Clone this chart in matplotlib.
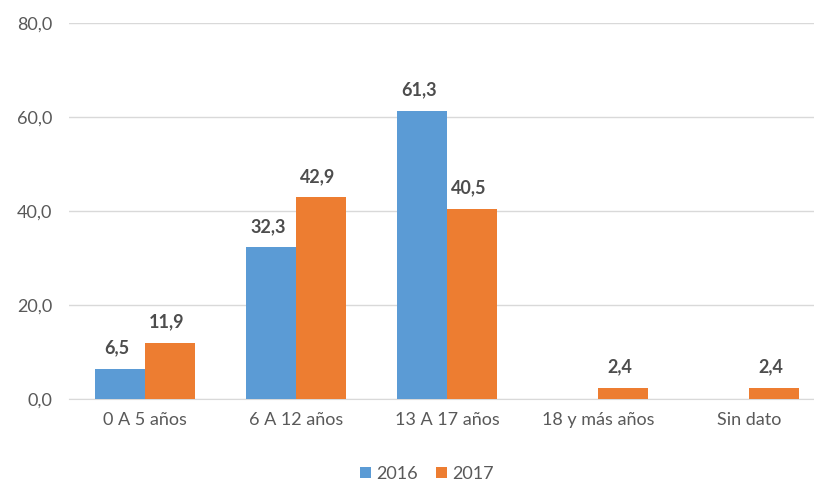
import numpy as np
import matplotlib.pyplot as plt

categories = ['0 A 5 años', '6 A 12 años', '13 A 17 años', '18 y más años', 'Sin dato']
values_2016 = [6.5, 32.3, 61.3, None, None]
values_2017 = [11.9, 42.9, 40.5, 2.4, 2.4]

BLUE = '#5B9BD5'
ORANGE = '#ED7D31'
GRAY = '#595959'

plt.rcParams['font.family'] = ['Lato', 'DejaVu Sans']

fig = plt.figure(figsize=(8.14, 4.82), dpi=100)
ax = fig.add_axes([0.085, 0.172, 0.915, 0.78])

x = np.arange(len(categories))
w = 0.33

def fmt(v):
    return f'{v:.1f}'.replace('.', ',')

for vals, off, col, lab in [(values_2016, -w / 2, BLUE, '2016'), (values_2017, w / 2, ORANGE, '2017')]:
    xs = [xi + off for xi, v in zip(x, vals) if v is not None]
    ys = [v for v in vals if v is not None]
    ax.bar(xs, ys, width=w, color=col, label=lab, zorder=3)
    for xi, yi in zip(xs, ys):
        ax.annotate(fmt(yi), (xi, yi), xytext=(-2, 9), textcoords='offset points',
                    ha='center', va='bottom', fontsize=13, fontweight='bold', color='#4D4D4D')

ax.set_ylim(0, 80)
ax.set_yticks(np.arange(0, 81, 20))
ax.set_yticklabels([fmt(v) for v in np.arange(0, 81, 20)])
ax.set_xlim(-0.5, 4.43)
ax.set_xticks(x)
ax.set_xticklabels(categories)
ax.tick_params(axis='both', length=0, labelsize=13, colors=GRAY, pad=9)
ax.tick_params(axis='y', pad=12)
ax.grid(axis='y', color='#D9D9D9', linewidth=1, zorder=0)
for s in ['top', 'right', 'left']:
    ax.spines[s].set_visible(False)
ax.spines['bottom'].set_color('#D9D9D9')

ax.legend(loc='upper center', bbox_to_anchor=(0.48, -0.135), ncol=2, frameon=False,
          fontsize=13, labelcolor=GRAY, handlelength=0.6, handleheight=0.6,
          columnspacing=1.0, handletextpad=0.3)

fig.savefig('out.png', dpi=100)
